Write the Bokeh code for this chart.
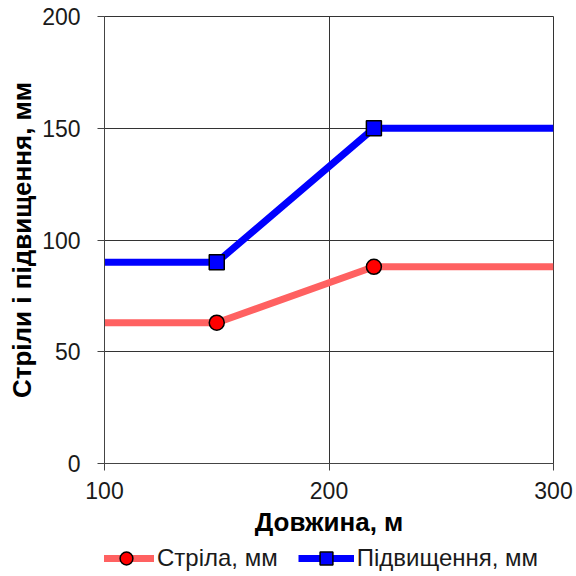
from bokeh.plotting import figure
from bokeh.models import Legend, LegendItem, Range1d, FixedTicker
from bokeh.layouts import column
from bokeh.embed import file_html
from bokeh.resources import INLINE

x_line = [100, 150, 220, 300]
strila = [63, 63, 88, 88]
pidv = [90, 90, 150, 150]
x_mark = [150, 220]
strila_mark = [63, 88]
pidv_mark = [90, 150]
x_ticks = [100, 200, 300]
y_ticks = [0, 50, 100, 150, 200]
labels = ["Стріла, мм", "Підвищення, мм"]

FONT = "Liberation Sans"
RED_LINE = "#FF6161"
RED_MARK = "#FF0000"
BLUE = "#0000FF"


def draw_series(fig):
    a = fig.line(x_line, strila, line_color=RED_LINE, line_width=7)
    b = fig.scatter(x_mark, strila_mark, marker="circle", size=15, fill_color=RED_MARK,
                    line_color="black", line_width=1.5)
    c = fig.line(x_line, pidv, line_color=BLUE, line_width=7)
    d = fig.scatter(x_mark, pidv_mark, marker="square", size=15, fill_color=BLUE,
                    line_color="black", line_width=1.5)
    return a, b, c, d


p = figure(width=576, height=542, output_backend="svg", toolbar_location=None,
           x_range=Range1d(100, 300), y_range=Range1d(0, 200),
           min_border_left=104, min_border_right=23, min_border_top=16, min_border_bottom=79)
draw_series(p)

p.xaxis.ticker = FixedTicker(ticks=x_ticks)
p.yaxis.ticker = FixedTicker(ticks=y_ticks)
for ax in (p.xaxis[0], p.yaxis[0]):
    ax.major_label_text_font = FONT
    ax.major_label_text_font_size = "23px"
    ax.major_label_text_color = "#1a1a1a"
    ax.axis_label_text_font = FONT
    ax.axis_label_text_font_size = "26px"
    ax.axis_label_text_font_style = "bold"
    ax.axis_label_text_color = "black"
    ax.major_tick_in = 0
    ax.major_tick_out = 7
    ax.minor_tick_in = 0
    ax.minor_tick_out = 0
    ax.axis_line_color = "#444444"
    ax.major_tick_line_color = "#444444"
p.xaxis.axis_label = "Довжина, м"
p.yaxis.axis_label = "Стріли і підвищення, мм"
p.xaxis.axis_label_standoff = 5
p.yaxis.axis_label_standoff = 2
p.xaxis.major_label_standoff = 11
p.yaxis.major_label_standoff = 17

p.grid.grid_line_color = "#333333"
p.grid.grid_line_alpha = 1
p.grid.grid_line_width = 1
p.outline_line_color = "#333333"

# legend strip below the chart (series drawn outside its visible range)
lf = figure(width=576, height=34, output_backend="svg", toolbar_location=None,
            x_range=Range1d(0, 1), y_range=Range1d(0, 1),
            x_axis_location=None, y_axis_location=None,
            min_border_left=0, min_border_right=0, min_border_top=0, min_border_bottom=0)
lf.grid.visible = False
lf.outline_line_color = None
l1, s1, l2, s2 = draw_series(lf)

legend = Legend(items=[LegendItem(label=labels[0], renderers=[l1, s1]),
                       LegendItem(label=labels[1], renderers=[l2, s2])],
                orientation="horizontal", location=(-6, 2),
                label_text_font=FONT, label_text_font_size="24px",
                label_text_color="#1a1a1a",
                glyph_width=56, glyph_height=32, label_standoff=3, spacing=20,
                border_line_color=None, background_fill_alpha=0,
                padding=0, margin=0)
lf.add_layout(legend, "center")

layout = column(p, lf, spacing=0)
open("out.html", "w").write(file_html(layout, INLINE))
